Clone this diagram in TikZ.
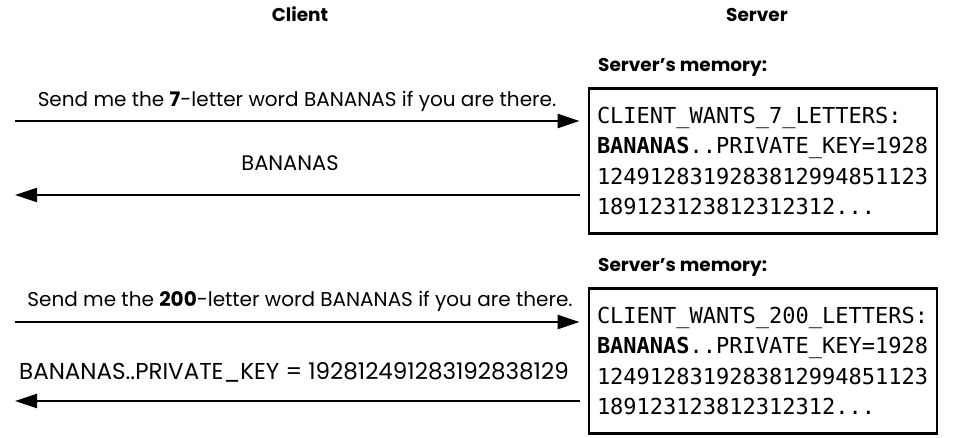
\documentclass[tikz,border=0pt]{standalone}
\usepackage{fontspec}
\setmainfont{Poppins}
\setmonofont{DejaVu Sans Mono}
\usetikzlibrary{arrows.meta}

\begin{document}
\begin{tikzpicture}[x=1pt,y=-1pt]
        \tikzstyle{head} = [font=\fontsize{18.5}{18.5}\selectfont\bfseries, anchor=base, inner sep=0pt]
        \tikzstyle{msg} = [font=\fontsize{20}{20}\selectfont, anchor=base, inner sep=0pt]
        \tikzstyle{memory} = [rectangle, draw=black, line width=2.8pt, text width=332pt, minimum height=145pt, inner xsep=8pt, align=left, font=\fontsize{22}{30.5}\selectfont\ttfamily]
        \tikzstyle{arrow} = [line width=2.2pt, -{Triangle[length=22pt,width=14pt]}]

                \useasboundingbox (0,0) rectangle (954,438);

                \node (client) [head] at (300,22) {Client};
                \node (server) [head] at (757,22) {Server};

                % 7 letters asked
                \node (label1) [head, anchor=base west] at (598,72) {Server’s memory:};
                \node (mem1) [memory] at (763,161) {CLIENT\_WANTS\_7\_LETTERS:\\\textbf{BANANAS}..PRIVATE\_KEY=1928\\1249128319283812994851123\\189123123812312312...};
                \coordinate (out1) at (15,121);
                \coordinate (in1) at (15,195);
                \node (ask1) [msg] at (297,107) {Send me the \textbf{7}-letter word BANANAS if you are there.};
                \node (reply1) [msg, font=\fontsize{21}{21}\selectfont] at (290,171) {BANANAS};
                \draw[arrow, shorten >=8pt] (out1) -- (out1 -| mem1.west);
                \draw[arrow, shorten <=8pt] (in1 -| mem1.west) -- (in1);

                % 200 letters asked
                \node (label2) [head, anchor=base west] at (598,272) {Server’s memory:};
                \node (mem2) [memory] at (763,361) {CLIENT\_WANTS\_200\_LETTERS:\\\textbf{BANANAS}..PRIVATE\_KEY=1928\\1249128319283812994851123\\189123123812312312...};
                \coordinate (out2) at (15,322);
                \coordinate (in2) at (15,401);
                \node (ask2) [msg] at (300,307) {Send me the \textbf{200}-letter word BANANAS if you are there.};
                \node (reply2) [msg, font=\fontsize{23}{23}\selectfont] at (294,380) {BANANAS..PRIVATE\_KEY = 192812491283192838129};
                \draw[arrow, shorten >=8pt] (out2) -- (out2 -| mem2.west);
                \draw[arrow, shorten <=8pt] (in2 -| mem2.west) -- (in2);
    \end{tikzpicture}
\end{document}
